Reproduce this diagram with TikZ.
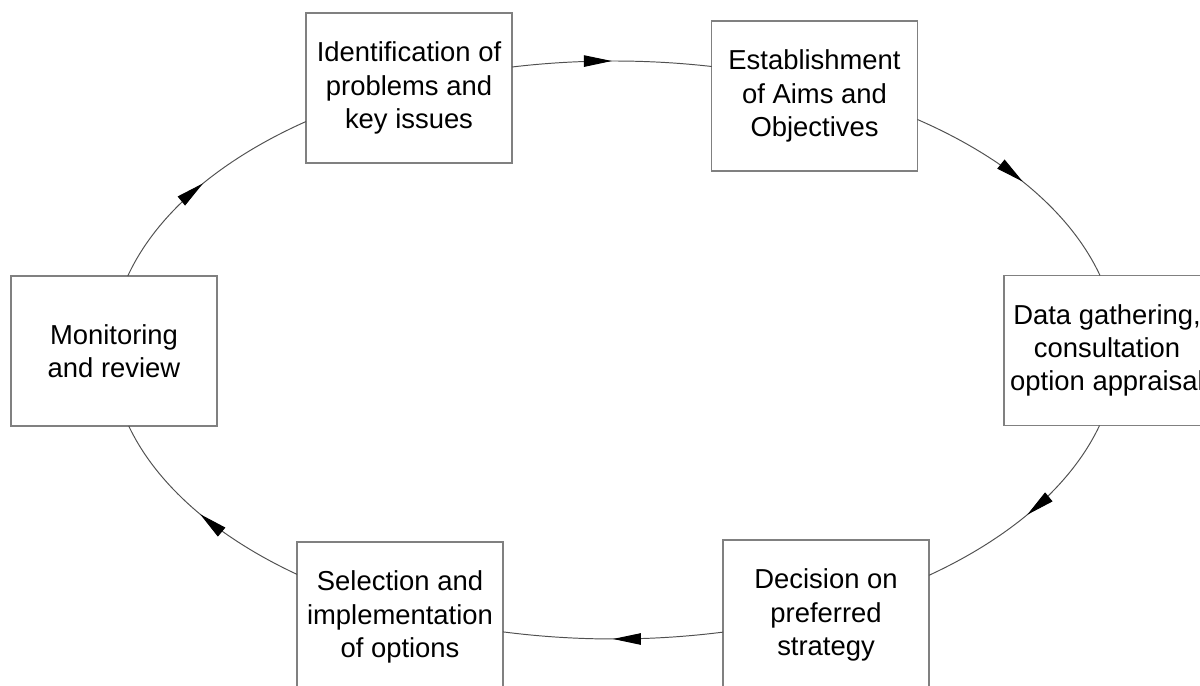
\documentclass[tikz,border=0pt]{standalone}
\usepackage{fontspec}
\setmainfont{Liberation Sans}
\usetikzlibrary{arrows.meta,decorations.markings,calc}

\definecolor{boxline}{RGB}{128,128,128}
\definecolor{flowline}{RGB}{80,80,80}

\tikzset{
  stagebox/.style={rectangle, draw=boxline, line width=0.8pt, fill=white,
    minimum width=4.12cm, minimum height=3cm, align=center, inner sep=2pt,
    font=\fontsize{15.6}{19}\selectfont},
  flow/.style={draw=flowline, line width=0.55pt,
    postaction={decorate, decoration={markings,
      mark=at position 0.5 with {\arrow[black]{Triangle[length=5.6mm,width=2.3mm]}}}}},
}

% radii of the elliptical cycle
\def\erx{10.06}
\def\ery{5.78}

\begin{document}
\begin{tikzpicture}
  \useasboundingbox (0,0) rectangle (24,13.72);
  \fill[white] (0,0) rectangle (24,13.72);

  \coordinate (C) at (12.28,6.72);

  % the six stages of the cycle
  \node[stagebox] (ident)   at (8.18,11.96) {Identification of\\problems and\\key issues};
  \node[stagebox] (aims)    at (16.29,11.80) {Establishment\\of Aims and\\Objectives};
  \node[stagebox] (data)    at (22.14,6.71) {Data gathering,\\consultation\\option appraisal};
  \node[stagebox] (decide)  at (16.52,1.42) {Decision on\\preferred\\strategy};
  \node[stagebox] (select)  at (8.00,1.38) {Selection and\\implementation\\of options};
  \node[stagebox] (monitor) at (2.28,6.70) {Monitoring\\and review};

  % points where the cycle leaves each box
  \coordinate (identout)   at ($(C)+(101.7:\erx cm and \ery cm)$);
  \coordinate (aimsout)    at ($(C)+(52.9:\erx cm and \ery cm)$);
  \coordinate (dataout)    at ($(C)+(-15.14:\erx cm and \ery cm)$);
  \coordinate (decideout)  at ($(C)+(-77.49:\erx cm and \ery cm)$);
  \coordinate (selectout)  at ($(C)+(-129.07:\erx cm and \ery cm)$);
  \coordinate (monitorout) at ($(C)+(165.17:\erx cm and \ery cm)$);

  % elliptical connectors, clockwise from stage to stage
  \path[flow] (identout)   arc[start angle=101.7,   end angle=78.8,    x radius=\erx, y radius=\ery];
  \path[flow] (aimsout)    arc[start angle=52.9,    end angle=14.94,   x radius=\erx, y radius=\ery];
  \path[flow] (dataout)    arc[start angle=-15.14,  end angle=-51.23,  x radius=\erx, y radius=\ery];
  \path[flow] (decideout)  arc[start angle=-77.49,  end angle=-102.75, x radius=\erx, y radius=\ery];
  \path[flow] (selectout)  arc[start angle=-129.07, end angle=-164.75, x radius=\erx, y radius=\ery];
  \path[flow] (monitorout) arc[start angle=165.17,  end angle=127.76,  x radius=\erx, y radius=\ery];
\end{tikzpicture}
\end{document}
